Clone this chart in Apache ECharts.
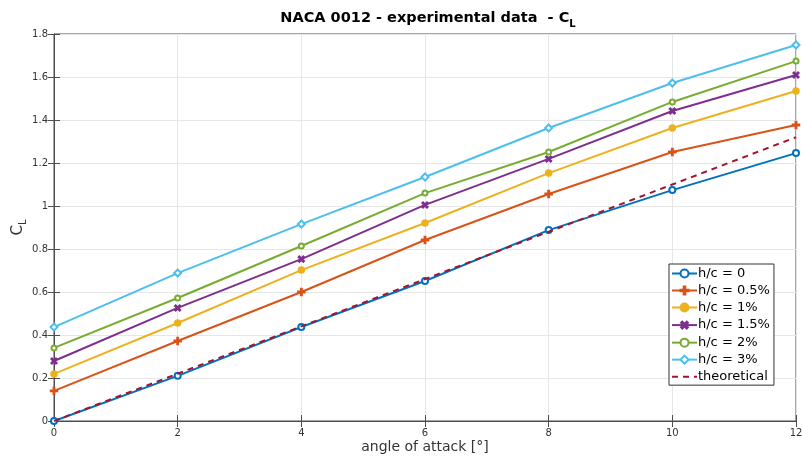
<!DOCTYPE html>
<html><head><meta charset="utf-8">
<script src="https://cdn.jsdelivr.net/npm/echarts@6/dist/echarts.min.js"></script>
<style>html,body{margin:0;padding:0;background:#fff}#c{width:802px;height:461px}</style>
</head><body><div id="c"></div>
<script>
const angles = [0, 2, 4, 6, 8, 10, 12];
const hc0   = [0, 0.21, 0.437, 0.651, 0.888, 1.074, 1.246];
const hc05  = [0.14, 0.372, 0.600, 0.842, 1.056, 1.251, 1.377];
const hc1   = [0.219, 0.456, 0.702, 0.921, 1.153, 1.363, 1.535];
const hc15  = [0.279, 0.526, 0.753, 1.005, 1.219, 1.442, 1.609];
const hc2   = [0.340, 0.572, 0.814, 1.060, 1.251, 1.484, 1.674];
const hc3   = [0.437, 0.688, 0.916, 1.135, 1.363, 1.572, 1.749];
const theo  = [0, 0.22, 0.44, 0.66, 0.88, 1.10, 1.32];
const names = ['h/c = 0', 'h/c = 0.5%', 'h/c = 1%', 'h/c = 1.5%', 'h/c = 2%', 'h/c = 3%', 'theoretical'];

const plus = 'path://M4,0H6V4H10V6H6V10H4V6H0V4H4Z';
const pair = arr => angles.map((a, i) => [a, arr[i]]);

function mk(name, data, color, symbol, size, rot) {
  return {
    name, type: 'line', data: pair(data), symbol, symbolSize: size, symbolRotate: rot || 0,
    lineStyle: { color, width: 2 }, itemStyle: { color, borderColor: color, borderWidth: 1.5 },
    showSymbol: true, animation: false, z: 3
  };
}

const chart = echarts.init(document.getElementById('c'));
const axisTxt = { color: '#333', fontSize: 10, fontFamily: 'DejaVu Sans' };
const clear = 'rgba(0,0,0,0)';
chart.setOption({
  animation: false,
  title: {
    text: '{t|NACA 0012 - experimental data  - C}{s|L}',
    left: 423, textAlign: 'center', top: 3,
    textStyle: { rich: {
      t: { fontSize: 14.5, fontWeight: 'bold', color: '#000', fontFamily: 'DejaVu Sans' },
      s: { fontSize: 10, fontWeight: 'bold', color: '#000', fontFamily: 'DejaVu Sans', padding: [11, 0, 0, 0] }
    } }
  },
  grid: { left: 54, right: 6, top: 34, bottom: 40, show: true, borderColor: '#4d4d4d', borderWidth: 1,
          containLabel: false, outerBoundsMode: 'none' },
  legend: {
    orient: 'vertical', left: 669, top: 264, itemWidth: 25, itemHeight: 10, itemGap: 4,
    backgroundColor: '#fff', borderColor: '#333', borderWidth: 1, padding: [3, 4, 2, 2],
    textStyle: { fontSize: 13, color: '#000', fontFamily: 'DejaVu Sans', padding: [0, 0, 0, -4] },
    data: names.slice(0, 6).concat([{ name: names[6], itemStyle: { color: clear, borderColor: clear, opacity: 0 } }])
  },
  xAxis: [{
    type: 'value', min: 0, max: 12, interval: 2,
    name: 'angle of attack [°]', nameLocation: 'middle', nameGap: 19, nameMoveOverlap: false,
    nameTextStyle: { fontSize: 14, color: '#333', fontFamily: 'DejaVu Sans' },
    axisLine: { show: true, onZero: false, lineStyle: { color: '#4d4d4d' } },
    axisTick: { show: true, inside: true, length: 6, lineStyle: { color: '#4d4d4d' } },
    axisLabel: Object.assign({ margin: 7 }, axisTxt),
    splitLine: { show: true, lineStyle: { color: '#e6e6e6' } }
  }, {
    type: 'value', min: 0, max: 12, interval: 2, position: 'top',
    axisLine: { show: true, lineStyle: { color: '#4d4d4d' } },
    axisTick: { show: true, inside: true, length: 6, lineStyle: { color: '#4d4d4d' } },
    axisLabel: { show: false }, splitLine: { show: false }
  }],
  yAxis: [{
    type: 'value', min: 0, max: 1.8, interval: 0.2,
    name: '{t|C}{s|L}', nameLocation: 'middle', nameGap: 26, nameRotate: 90, nameMoveOverlap: false,
    nameTextStyle: { rich: {
      t: { fontSize: 15, color: '#333', fontFamily: 'DejaVu Sans' },
      s: { fontSize: 10, color: '#333', fontFamily: 'DejaVu Sans', padding: [10, 0, 0, 0] }
    } },
    axisLine: { show: true, onZero: false, lineStyle: { color: '#4d4d4d' } },
    axisTick: { show: true, inside: true, length: 6, lineStyle: { color: '#4d4d4d' } },
    axisLabel: Object.assign({ margin: 6 }, axisTxt),
    splitLine: { show: true, lineStyle: { color: '#e6e6e6' } }
  }, {
    type: 'value', min: 0, max: 1.8, interval: 0.2, position: 'right',
    axisLine: { show: true, lineStyle: { color: '#4d4d4d' } },
    axisTick: { show: true, inside: true, length: 6, lineStyle: { color: '#4d4d4d' } },
    axisLabel: { show: false }, splitLine: { show: false }
  }],
  series: [
    mk(names[0], hc0, '#0072BD', 'emptyCircle', 6),
    mk(names[1], hc05, '#D95319', plus, 7),
    mk(names[2], hc1, '#EDB120', 'circle', 6),
    mk(names[3], hc15, '#7E2F8E', plus, 7, 45),
    mk(names[4], hc2, '#77AC30', 'emptyCircle', 5),
    mk(names[5], hc3, '#4DBEEE', 'emptyDiamond', 7),
    { name: names[6], type: 'line', data: pair(theo), symbol: 'none', z: 4,
      lineStyle: { color: '#A2142F', width: 2, type: [6, 5] }, itemStyle: { color: '#A2142F' } }
  ]
});
</script></body></html>
